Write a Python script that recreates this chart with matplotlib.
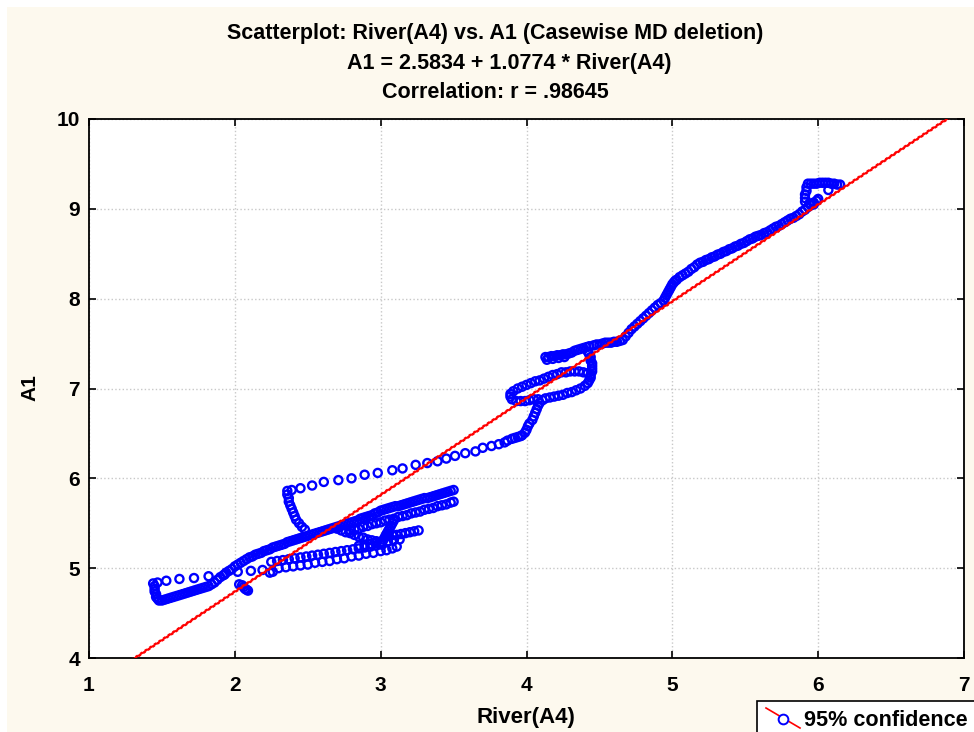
import numpy as np
import matplotlib
matplotlib.use("Agg")
import matplotlib.pyplot as plt
from matplotlib.patches import Rectangle
from matplotlib.lines import Line2D

# regression from the chart title
intercept = 2.5834
slope = 1.0774
r_value = .98645
# half width of the 95% band (the dashed lines hug the fit)
conf_half = 0.012

# (River(A4), A1) points
low_sparse = [(1.44, 4.83), (1.47, 4.84), (1.53, 4.86), (1.62, 4.88), (1.72, 4.89), (1.82, 4.91),
              (1.93, 4.93), (2.02, 4.96), (2.11, 4.97), (2.19, 4.98)]

low_band = [(1.45, 4.80), (1.45, 4.77), (1.45, 4.74), (1.46, 4.71), (1.46, 4.68), (1.47, 4.66), (1.48, 4.64),
            (1.50, 4.64), (1.52, 4.65), (1.54, 4.66), (1.56, 4.67), (1.58, 4.68), (1.60, 4.69), (1.62, 4.70),
            (1.64, 4.71), (1.66, 4.72), (1.68, 4.73), (1.70, 4.74), (1.72, 4.75), (1.74, 4.76), (1.76, 4.77),
            (1.78, 4.78), (1.80, 4.79), (1.82, 4.80), (1.84, 4.82), (1.86, 4.84), (1.88, 4.87), (1.90, 4.90),
            (1.92, 4.92), (1.94, 4.95), (1.96, 4.97), (1.98, 4.99), (2.00, 5.02), (2.02, 5.04), (2.04, 5.06),
            (2.06, 5.08), (2.08, 5.10), (2.10, 5.12), (2.12, 5.13), (2.14, 5.15), (2.16, 5.16), (2.18, 5.17),
            (2.20, 5.19), (2.22, 5.20), (2.24, 5.21), (2.26, 5.23), (2.28, 5.24), (2.30, 5.25), (2.32, 5.26),
            (2.34, 5.27), (2.36, 5.29), (2.38, 5.30), (2.40, 5.31), (2.42, 5.32), (2.44, 5.33), (2.46, 5.34),
            (2.48, 5.35), (2.50, 5.36), (2.52, 5.37), (2.54, 5.38), (2.56, 5.39), (2.58, 5.40), (2.60, 5.41),
            (2.62, 5.42), (2.64, 5.43), (2.66, 5.44), (2.68, 5.45), (2.70, 5.46), (2.72, 5.47), (2.74, 5.48),
            (2.76, 5.49), (2.78, 5.50), (2.80, 5.51), (2.82, 5.52), (2.84, 5.53), (2.86, 5.55), (2.88, 5.56),
            (2.90, 5.57), (2.92, 5.58), (2.94, 5.59), (2.96, 5.61), (2.98, 5.62), (3.00, 5.64), (3.02, 5.65),
            (3.04, 5.66), (3.06, 5.67), (3.08, 5.68), (3.10, 5.69), (3.12, 5.69), (3.14, 5.70), (3.16, 5.71),
            (3.18, 5.72), (3.20, 5.73), (3.22, 5.74), (3.24, 5.75), (3.26, 5.76), (3.28, 5.77), (3.30, 5.78),
            (3.32, 5.78), (3.34, 5.79), (3.36, 5.80), (3.38, 5.81), (3.40, 5.82), (3.42, 5.83), (3.44, 5.84),
            (3.46, 5.85), (3.48, 5.86), (3.50, 5.87)]

mid_band = [(2.79, 5.42), (2.82, 5.43), (2.85, 5.44), (2.88, 5.46), (2.91, 5.47), (2.94, 5.49), (2.97, 5.50),
            (3.00, 5.51), (3.03, 5.53), (3.06, 5.54), (3.09, 5.55), (3.12, 5.57), (3.15, 5.58), (3.18, 5.59),
            (3.21, 5.61), (3.24, 5.62), (3.27, 5.63), (3.30, 5.65), (3.33, 5.66), (3.36, 5.67), (3.39, 5.69),
            (3.42, 5.70), (3.45, 5.71), (3.48, 5.73), (3.50, 5.74)]

s_curve = [(2.70, 5.44), (2.73, 5.42), (2.76, 5.40), (2.79, 5.39), (2.82, 5.37), (2.85, 5.35), (2.88, 5.34),
           (2.91, 5.32), (2.94, 5.31), (2.97, 5.30), (3.00, 5.29), (3.02, 5.32), (3.03, 5.35), (3.04, 5.38),
           (3.05, 5.41), (3.06, 5.44), (3.07, 5.47), (3.08, 5.50), (3.09, 5.53), (3.05, 5.36), (3.08, 5.37),
           (3.11, 5.37), (3.14, 5.38), (3.17, 5.39), (3.20, 5.40), (3.23, 5.41), (3.26, 5.42)]

row_a = [(2.25, 5.07), (2.29, 5.08), (2.33, 5.09), (2.37, 5.10), (2.41, 5.11), (2.45, 5.12), (2.49, 5.13),
         (2.53, 5.14), (2.57, 5.15), (2.61, 5.16), (2.65, 5.17), (2.69, 5.18), (2.73, 5.19), (2.77, 5.20),
         (2.81, 5.21), (2.85, 5.22), (2.89, 5.23), (2.93, 5.24), (2.97, 5.25), (3.01, 5.26)]

row_b = [(2.30, 5.00), (2.35, 5.01), (2.40, 5.02), (2.45, 5.03), (2.50, 5.04), (2.55, 5.06), (2.60, 5.07),
         (2.65, 5.08), (2.70, 5.10), (2.75, 5.11), (2.80, 5.13), (2.85, 5.14), (2.90, 5.16), (2.95, 5.17),
         (3.00, 5.19), (3.04, 5.20), (3.08, 5.22), (3.11, 5.24)]

row_c = [(2.85, 5.25), (2.89, 5.26), (2.93, 5.27), (2.97, 5.28), (3.01, 5.29), (3.05, 5.30), (3.09, 5.31),
         (3.13, 5.32)]

blobs = [(2.03, 4.82), (2.05, 4.81), (2.06, 4.79), (2.07, 4.77), (2.08, 4.76), (2.09, 4.75),
         (2.24, 4.95), (2.26, 4.96)]

stack = [(2.36, 5.86), (2.36, 5.82), (2.37, 5.78), (2.37, 5.74), (2.38, 5.70), (2.39, 5.66), (2.40, 5.62),
         (2.41, 5.58), (2.42, 5.54), (2.44, 5.50), (2.46, 5.46), (2.48, 5.43)]

up_sparse = [(2.39, 5.87), (2.45, 5.89), (2.53, 5.92), (2.61, 5.96), (2.71, 5.98), (2.80, 6.00), (2.89, 6.04),
             (2.98, 6.06), (3.08, 6.09), (3.15, 6.11), (3.24, 6.15), (3.32, 6.17), (3.39, 6.19), (3.45, 6.22),
             (3.51, 6.25), (3.58, 6.28), (3.65, 6.30), (3.70, 6.34), (3.76, 6.36), (3.81, 6.38), (3.85, 6.40),
             (3.87, 6.42), (3.90, 6.44), (3.92, 6.45), (3.94, 6.46), (3.96, 6.47), (3.97, 6.48)]

knot = [(3.99, 6.51), (4.00, 6.54), (4.01, 6.58), (4.02, 6.61), (4.04, 6.65), (4.05, 6.69), (4.06, 6.73),
        (4.07, 6.77), (4.08, 6.81), (4.09, 6.84), (4.11, 6.87), (4.13, 6.89),
        (4.16, 6.90), (4.19, 6.91), (4.22, 6.92), (4.25, 6.93), (4.28, 6.95), (4.31, 6.96), (4.34, 6.98),
        (4.37, 7.00), (4.40, 7.03), (4.42, 7.06), (4.43, 7.09), (4.44, 7.12), (4.44, 7.15),
        (4.42, 7.17), (4.39, 7.18), (4.36, 7.19), (4.33, 7.19), (4.30, 7.19), (4.27, 7.18), (4.24, 7.18),
        (4.21, 7.16), (4.18, 7.15), (4.15, 7.13), (4.12, 7.11), (4.09, 7.09), (4.06, 7.08), (4.03, 7.06),
        (4.00, 7.04), (3.97, 7.02), (3.94, 7.00), (3.91, 6.97), (3.89, 6.94), (3.89, 6.91), (3.90, 6.88),
        (3.93, 6.86), (3.96, 6.86), (3.99, 6.86), (4.02, 6.87), (4.05, 6.88), (4.08, 6.88),
        (4.45, 7.19), (4.45, 7.22), (4.45, 7.25), (4.45, 7.28), (4.44, 7.31), (4.44, 7.35), (4.43, 7.38),
        (4.42, 7.41),
        (4.13, 7.35), (4.15, 7.35), (4.17, 7.36), (4.19, 7.36), (4.21, 7.37), (4.23, 7.37), (4.25, 7.38),
        (4.27, 7.38), (4.29, 7.39), (4.31, 7.40), (4.33, 7.42), (4.35, 7.43), (4.37, 7.44), (4.39, 7.45),
        (4.41, 7.46), (4.43, 7.47), (4.46, 7.48), (4.48, 7.49), (4.50, 7.49), (4.52, 7.50), (4.54, 7.51),
        (4.56, 7.51), (4.58, 7.51), (4.60, 7.52), (4.62, 7.52), (4.64, 7.53),
        (4.14, 7.32), (4.18, 7.33), (4.22, 7.34), (4.26, 7.35)]

arm = [(4.66, 7.54), (4.68, 7.58), (4.70, 7.62), (4.72, 7.66), (4.74, 7.69), (4.76, 7.72), (4.78, 7.75),
       (4.80, 7.78), (4.82, 7.81), (4.84, 7.84), (4.86, 7.87), (4.88, 7.90), (4.90, 7.93), (4.92, 7.95),
       (4.94, 7.98), (4.95, 8.01), (4.96, 8.04), (4.97, 8.07), (4.98, 8.10), (4.99, 8.13), (5.00, 8.16),
       (5.01, 8.18), (5.02, 8.20), (5.03, 8.21), (5.05, 8.24), (5.07, 8.26), (5.09, 8.28), (5.11, 8.30),
       (5.13, 8.33), (5.15, 8.35), (5.17, 8.38), (5.19, 8.40), (5.21, 8.41), (5.23, 8.43), (5.25, 8.44),
       (5.27, 8.46), (5.29, 8.47), (5.31, 8.49), (5.33, 8.50), (5.35, 8.52), (5.37, 8.53), (5.39, 8.55),
       (5.41, 8.56), (5.43, 8.58), (5.45, 8.59), (5.47, 8.61), (5.49, 8.62), (5.51, 8.64), (5.53, 8.66),
       (5.55, 8.67), (5.57, 8.69), (5.59, 8.70), (5.61, 8.71), (5.63, 8.73), (5.65, 8.74), (5.67, 8.76),
       (5.69, 8.78), (5.71, 8.80), (5.73, 8.81), (5.75, 8.83), (5.77, 8.85), (5.79, 8.87), (5.81, 8.89),
       (5.83, 8.90), (5.85, 8.92), (5.87, 8.94), (5.89, 8.97), (5.91, 8.99), (5.93, 9.02), (5.95, 9.04),
       (5.97, 9.05)]

top_hook = [(5.91, 9.08), (5.91, 9.12), (5.91, 9.16), (5.92, 9.20), (5.92, 9.24), (5.93, 9.28), (5.95, 9.28),
            (5.97, 9.28), (5.99, 9.28), (6.01, 9.29), (6.03, 9.29), (6.05, 9.29), (6.07, 9.29), (6.09, 9.28),
            (6.11, 9.28), (6.13, 9.27), (6.15, 9.27), (5.94, 9.06), (5.97, 9.07), (5.99, 9.09), (6.00, 9.11),
            (6.07, 9.21)]

segments = [low_sparse, low_band, mid_band, s_curve, row_a, row_b, row_c, blobs, stack,
            up_sparse, knot, arm, top_hook]
pts = np.array([p for seg in segments for p in seg])
river = pts[:, 0]
a1 = pts[:, 1]

xfit = np.linspace(1, 7, 300)
yfit = intercept + slope * xfit

plt.rcParams['font.family'] = ['Liberation Sans', 'DejaVu Sans']
plt.rcParams['font.weight'] = 'bold'

W, H = 974, 732
fig = plt.figure(figsize=(W / 100, H / 100), dpi=100)
fig.patch.set_facecolor('white')
fig.add_artist(Rectangle((7 / W, 0), 1, 1 - 7 / H, transform=fig.transFigure,
                         facecolor='#fdf9ee', edgecolor='none', zorder=0))

ax = fig.add_axes([89 / W, 1 - 658 / H, 875 / W, 539 / H])
ax.set_facecolor('white')
ax.set_xlim(1, 7)
ax.set_ylim(4, 10)
ax.set_xticks(range(1, 8))
ax.set_yticks(range(4, 11))
ax.grid(True, color='#c8c8c8', linestyle=':', linewidth=1)
ax.set_axisbelow(True)
for sp in ax.spines.values():
    sp.set_linewidth(1.3)
ax.tick_params(direction='in', length=5, width=1.2, top=True, right=True, labelsize=15)
ax.tick_params(axis='x', pad=13)
ax.tick_params(axis='y', pad=6.5)

ax.scatter(river, a1, s=34, facecolors='none', edgecolors='#0000ff', linewidths=1.7, zorder=2)
ax.plot(xfit, yfit, color='red', linewidth=1.3, zorder=3)
ax.plot(xfit, yfit + conf_half, color='red', linewidth=1, linestyle=(0, (2, 2)), zorder=3)
ax.plot(xfit, yfit - conf_half, color='red', linewidth=1, linestyle=(1, (2, 2)), zorder=3)

fig.text(495 / W, 1 - 33 / H, 'Scatterplot: River(A4) vs. A1 (Casewise MD deletion)',
         ha='center', va='center', fontsize=15.5)
fig.text(509 / W, 1 - 63 / H, f'A1 = {intercept:.4f} + {slope:.4f} * River(A4)',
         ha='center', va='center', fontsize=15.5)
fig.text(495 / W, 1 - 93 / H, 'Correlation: r = ' + f'{r_value:.5f}'.lstrip('0'),
         ha='center', va='center', fontsize=15.5)

fig.text(526 / W, 1 - 718 / H, 'River(A4)', ha='center', va='center', fontsize=16)
fig.text(30 / W, 1 - 388 / H, 'A1', ha='center', va='center', rotation=90, fontsize=15)

# legend box, running off the picture edge as in the original
fig.add_artist(Rectangle((757 / W, -0.05), 0.3, 0.05 + 1 - 701 / H, transform=fig.transFigure,
                         facecolor='white', edgecolor='black', linewidth=1.2))
fig.add_artist(Line2D([766 / W, 800 / W], [1 - 708 / H, 1 - 728 / H], transform=fig.transFigure,
                      color='red', linewidth=1.2))
fig.add_artist(Line2D([783 / W], [1 - 719 / H], transform=fig.transFigure, marker='o',
                      markersize=7, markerfacecolor='white', markeredgecolor='blue', markeredgewidth=1.4))
fig.text(804 / W, 1 - 726 / H, '95% confidence', ha='left', va='baseline', fontsize=15.6)

fig.savefig('out.png', dpi=100)
